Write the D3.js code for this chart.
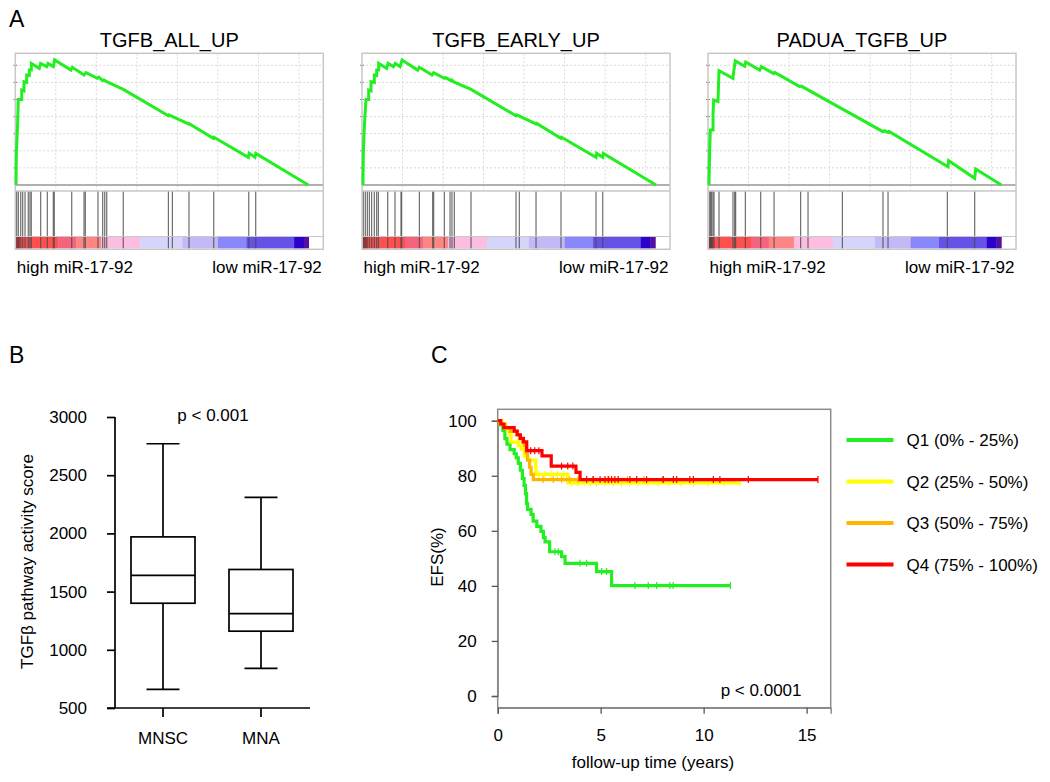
<!DOCTYPE html>
<html><head><meta charset="utf-8">
<script src="https://cdn.jsdelivr.net/npm/d3@7"></script>
<style>
html,body{margin:0;padding:0;background:#fff;}
svg{display:block;font-family:"Liberation Sans",Arial,sans-serif;}
</style></head>
<body>
<svg id="c" width="1050" height="782"></svg>
<script>
// ---------------- DATA ----------------
const gseaTitles = ["TGFB_ALL_UP", "TGFB_EARLY_UP", "PADUA_TGFB_UP"];
// running enrichment score vertices: [rank (thousands), ES]
const esCurve1 = [[0.09,0],[0.12,0.17],[0.2,0.26],[0.28,0.35],[0.37,0.50],[0.79,0.50],[0.79,0.555],[1.07,0.55],[1.07,0.604],[1.40,0.60],[1.40,0.643],[1.73,0.64],[1.73,0.672],[1.98,0.672],[1.98,0.711],[2.96,0.682],[3.13,0.711],[3.87,0.692],[4.03,0.711],[4.69,0.692],[4.85,0.731],[6.87,0.672],[7.04,0.688],[8.48,0.643],[8.72,0.657],[10.12,0.624],[10.3,0.63],[10.78,0.61],[10.95,0.614],[11.27,0.604],[13.33,0.559],[18.88,0.405],[18.95,0.41],[21.35,0.357],[21.4,0.36],[24.43,0.273],[24.5,0.279],[28.75,0.162],[28.85,0.185],[29.57,0.162],[29.67,0.185],[36.15,0]];
const esCurve2 = [[0.12,0],[0.16,0.17],[0.22,0.26],[0.3,0.35],[0.49,0.50],[0.82,0.50],[0.82,0.555],[1.11,0.55],[1.11,0.604],[1.52,0.60],[1.52,0.643],[1.81,0.64],[1.81,0.672],[2.06,0.672],[2.06,0.711],[3.04,0.682],[3.21,0.711],[3.87,0.692],[4.11,0.711],[4.69,0.692],[4.94,0.731],[6.87,0.672],[7.08,0.688],[8.64,0.643],[8.84,0.657],[10.16,0.624],[10.3,0.628],[10.98,0.61],[11.1,0.614],[11.27,0.604],[13.45,0.559],[19.0,0.405],[19.1,0.41],[21.47,0.357],[21.55,0.36],[24.55,0.273],[24.62,0.279],[28.87,0.162],[28.95,0.185],[29.7,0.162],[29.78,0.185],[36.27,0]];
const esCurve3 = [[0.12,0],[0.21,0.215],[0.29,0.322],[0.62,0.322],[0.62,0.415],[0.70,0.497],[1.23,0.489],[1.36,0.668],[3.08,0.624],[3.17,0.663],[3.37,0.725],[4.53,0.694],[4.65,0.719],[6.38,0.672],[6.58,0.692],[8.1,0.651],[8.23,0.658],[11.31,0.575],[11.52,0.578],[12.34,0.556],[21.59,0.312],[21.8,0.318],[22.21,0.307],[22.33,0.313],[29.61,0.107],[29.69,0.142],[32.9,0.039],[33.03,0.094],[36.19,0]];
// hit positions (rank, thousands)
const hits1 = [0.17,0.37,0.67,0.91,1.2,1.6,1.81,1.97,3.13,3.95,4.69,4.81,6.96,8.48,8.64,10.2,10.78,11.03,11.28,13.32,18.89,19.38,21.43,24.48,28.8,29.66];
const hits2 = [0.16,0.41,0.66,0.91,1.19,1.52,1.81,2.02,3.17,4.07,4.81,4.89,7.08,8.72,8.84,10.16,10.86,11.1,11.39,13.45,19.0,19.41,21.47,24.55,28.87,29.7];
const hits3 = [0.21,0.33,0.45,0.62,0.74,1.36,3.08,3.29,3.41,4.61,6.5,8.15,11.43,12.34,16.58,21.59,22.21,29.53,32.9];
// ranked-list colour bar
const colorBarEdges = [0.1,0.6,5.3,7.5,10.6,15.4,20.6,25.0,28.5,34.4,35.6,36.2];
const colorBarColors = ["#d9232e","#ff4f4f","#f5647c","#ff8585","#fcbde0","#d5d5fb","#c2b9f6","#8888fc","#6552e6","#2d00cc","#55109f"];

// Panel B box plot
const boxGroups = ["MNSC", "MNA"];
const boxMin = [660, 840];
const boxQ1 = [1400, 1160];
const boxMedian = [1640, 1310];
const boxQ3 = [1970, 1690];
const boxMax = [2770, 2310];
const boxTicks = [500, 1000, 1500, 2000, 2500, 3000];

// Panel C Kaplan-Meier
const kmLabels = ["Q1 (0% - 25%)", "Q2 (25% - 50%)", "Q3 (50% - 75%)", "Q4 (75% - 100%)"];
const kmColors = ["#22ee22", "#ffff00", "#ffb400", "#ff0000"];
const kmQ1 = [[0,100],[0.10,98.5],[0.25,96.5],[0.35,93.5],[0.45,91.5],[0.6,89.5],[0.8,88.0],[0.9,86.5],[1.0,84.5],[1.1,82.0],[1.2,79.0],[1.28,76.5],[1.35,73.5],[1.4,70.0],[1.45,67.8],[1.62,66.0],[1.72,63.5],[1.9,61.6],[2.1,59.8],[2.22,57.5],[2.3,56.0],[2.52,52.4],[3.1,50.6],[3.27,48.2],[4.8,45.2],[5.53,40.1]];
const kmQ2 = [[0,100],[0.2,98.7],[0.4,97.4],[0.5,96.1],[0.58,94.8],[0.65,92.2],[1.0,90.9],[1.15,89.6],[1.3,87.0],[1.45,85.7],[1.85,80.5],[3.4,77.4]];
const kmQ3 = [[0,100],[0.12,98.7],[0.35,97.4],[0.6,96.1],[0.92,94.8],[1.05,93.5],[1.2,92.2],[1.3,90.9],[1.38,88.3],[1.45,85.7],[1.55,83.1],[1.62,80.5],[1.73,78.6]];
const kmQ4 = [[0,100],[0.15,98.8],[0.3,97.5],[0.8,96.2],[0.95,94.9],[1.1,93.6],[1.25,92.3],[1.41,89.1],[2.15,87.2],[2.6,83.5],[3.8,81.2],[4.0,78.6]];
const kmEnd = [11.3, 11.77, 11.5, 15.55];
const kmCensorQ1 = [2.78,2.94,4.0,4.32,5.05,5.29,6.66,7.31,7.72,8.36,8.52,11.3];
const kmCensorQ2 = [2.0,2.3,2.6,2.9,3.2,3.6,3.9,4.2,4.5,4.8,5.2,5.6,6.0,6.4,6.8,7.3,7.8,8.3,8.9,9.5,10.2,11.0,11.77];
const kmCensorQ3 = [2.2,2.7,3.1,3.5,3.9,4.6,5.4,6.3,7.1,8.0];
const kmCensorQ4 = [1.6,1.8,2.0,3.1,3.4,3.65,4.32,4.64,4.97,5.21,5.37,5.53,5.69,5.85,6.42,6.75,7.23,8.04,8.53,8.69,9.33,9.5,10.47,10.79,12.17,15.55];
const kmTicksY = [0, 20, 40, 60, 80, 100];
const kmTicksX = [0, 5, 10, 15];

// ---------------- DRAW ----------------
const svg = d3.select("#c");
const FONT = "17px";

// panel letters
svg.append("text").attr("x", 9).attr("y", 27).attr("font-size", "23px").text("A");
svg.append("text").attr("x", 9).attr("y", 363).attr("font-size", "23px").text("B");
svg.append("text").attr("x", 431).attr("y", 363).attr("font-size", "23px").text("C");

// ---- Panel A ----
const gseaLefts = [15.3, 362, 708];
const esCurves = [esCurve1, esCurve2, esCurve3];
const hitSets = [hits1, hits2, hits3];

function gseaPanel(i) {
  const L = gseaLefts[i], Wd = 308;
  const x = d3.scaleLinear([0, 38], [L, L + Wd]);
  const y = d3.scaleLinear([-0.035, 0.77], [191, 53.3]);
  const g = svg.append("g");
  // grid
  g.selectAll(".vg").data(d3.range(5, 36, 5)).join("line")
    .attr("x1", d => x(d)).attr("x2", d => x(d)).attr("y1", 53.3).attr("y2", 191)
    .attr("stroke", "#d8d8d8").attr("stroke-width", 1).attr("stroke-dasharray", "2,2");
  g.selectAll(".hg").data(d3.range(1, 8).map(d => d / 10)).join("line")
    .attr("x1", L).attr("x2", L + Wd).attr("y1", d => y(d)).attr("y2", d => y(d))
    .attr("stroke", "#d8d8d8").attr("stroke-width", 1).attr("stroke-dasharray", "2,2");
  // y tick marks
  g.selectAll(".yt").data(d3.range(1, 8).map(d => d / 10)).join("line")
    .attr("x1", L - 2).attr("x2", L + 2).attr("y1", d => y(d)).attr("y2", d => y(d))
    .attr("stroke", "#888").attr("stroke-width", 1);
  // colour bar
  const segs = colorBarColors.map((c, k) => ({c, a: colorBarEdges[k], b: colorBarEdges[k + 1]}));
  g.selectAll(".cb").data(segs).join("rect")
    .attr("x", d => x(d.a)).attr("width", d => x(d.b) - x(d.a) + 0.3)
    .attr("y", 237).attr("height", 11.5).attr("fill", d => d.c);
  // hits
  g.selectAll(".hit").data(hitSets[i]).join("line")
    .attr("x1", d => x(d)).attr("x2", d => x(d)).attr("y1", 191).attr("y2", 248.5)
    .attr("stroke", "#4a4a4a").attr("stroke-opacity", 0.8).attr("stroke-width", 1.2);
  // zero line
  g.append("line").attr("x1", L).attr("x2", L + Wd).attr("y1", y(0)).attr("y2", y(0))
    .attr("stroke", "#b0b0b0").attr("stroke-width", 2);
  // separators
  g.append("line").attr("x1", L).attr("x2", L + Wd).attr("y1", 191).attr("y2", 191)
    .attr("stroke", "#c8c8c8").attr("stroke-width", 1.5);
  g.append("line").attr("x1", L).attr("x2", L + Wd).attr("y1", 236.5).attr("y2", 236.5)
    .attr("stroke", "#c8c8c8").attr("stroke-width", 1.2);
  // frame
  g.append("rect").attr("x", L).attr("y", 53.3).attr("width", Wd).attr("height", 196)
    .attr("fill", "none").attr("stroke", "#c8c8c8").attr("stroke-width", 1.5);
  // ES curve
  g.append("path").datum(esCurves[i])
    .attr("d", d3.line().x(d => x(d[0])).y(d => y(d[1])))
    .attr("fill", "none").attr("stroke", "#22ee22").attr("stroke-width", 3)
    .attr("stroke-linejoin", "miter");
  // title & labels
  g.append("text").attr("x", L + 154).attr("y", 46.5).attr("text-anchor", "middle")
    .attr("font-size", "20px").text(gseaTitles[i]);
  g.append("text").attr("x", L + 1.5).attr("y", 273).attr("font-size", FONT).text("high miR-17-92");
  g.append("text").attr("x", L + Wd - 1.5).attr("y", 273).attr("text-anchor", "end")
    .attr("font-size", FONT).text("low miR-17-92");
}
[0, 1, 2].forEach(gseaPanel);

// ---- Panel B ----
(function () {
  const y = d3.scaleLinear([500, 3000], [708, 417]);
  const x = d3.scalePoint(boxGroups, [163, 261]);
  const g = svg.append("g");
  const ax = g.append("g").attr("transform", "translate(115,0)")
    .call(d3.axisLeft(y).tickValues(boxTicks).tickSize(8).tickPadding(20).tickFormat(d3.format("d")));
  ax.select(".domain").attr("stroke", "#000").attr("stroke-width", 1.7).attr("d", "M0,708V417");
  ax.selectAll(".tick line").attr("stroke", "#000").attr("stroke-width", 1.7);
  ax.selectAll("text").attr("font-size", FONT).attr("font-family", "Liberation Sans, Arial, sans-serif").attr("fill", "#000");
  // x axis
  g.append("line").attr("x1", 107).attr("x2", 310).attr("y1", y(500)).attr("y2", y(500))
    .attr("stroke", "#000").attr("stroke-width", 1.7);
  boxGroups.forEach((grp, k) => {
    const cx = x(grp), bw = 64, cw = 33;
    g.append("line").attr("x1", cx).attr("x2", cx).attr("y1", y(500)).attr("y2", y(500) + 9)
      .attr("stroke", "#000").attr("stroke-width", 1.7);
    g.append("text").attr("x", cx).attr("y", 743.5).attr("text-anchor", "middle")
      .attr("font-size", FONT).text(grp);
    const ln = (x1, x2, y1, y2) => g.append("line").attr("x1", x1).attr("x2", x2).attr("y1", y1).attr("y2", y2)
      .attr("stroke", "#000").attr("stroke-width", 1.7);
    ln(cx, cx, y(boxMax[k]), y(boxQ3[k]));
    ln(cx, cx, y(boxQ1[k]), y(boxMin[k]));
    ln(cx - cw / 2, cx + cw / 2, y(boxMax[k]), y(boxMax[k]));
    ln(cx - cw / 2, cx + cw / 2, y(boxMin[k]), y(boxMin[k]));
    g.append("rect").attr("x", cx - bw / 2).attr("width", bw).attr("y", y(boxQ3[k]))
      .attr("height", y(boxQ1[k]) - y(boxQ3[k])).attr("fill", "none").attr("stroke", "#000").attr("stroke-width", 1.7);
    ln(cx - bw / 2, cx + bw / 2, y(boxMedian[k]), y(boxMedian[k]));
  });
  g.append("text").attr("x", 213).attr("y", 420.5).attr("text-anchor", "middle").attr("font-size", FONT).text("p < 0.001");
  g.append("text").attr("transform", "translate(32.5,561.5) rotate(-90)").attr("text-anchor", "middle")
    .attr("font-size", FONT).text("TGFβ pathway activity score");
})();

// ---- Panel C ----
(function () {
  const x = d3.scaleLinear([0, 16.17], [497.7, 830.7]);
  const y = d3.scaleLinear([0, 100], [696, 420.7]);
  const g = svg.append("g");
  // frame
  g.append("rect").attr("x", 497.7).attr("y", 409.3).attr("width", 333).attr("height", 298.4)
    .attr("fill", "none").attr("stroke", "#8c8c8c").attr("stroke-width", 1.5);
  const ay = g.append("g").attr("transform", "translate(497.7,0)")
    .call(d3.axisLeft(y).tickValues(kmTicksY).tickSize(6).tickPadding(15));
  ay.select(".domain").attr("stroke", "#8c8c8c").attr("stroke-width", 1.5);
  ay.selectAll(".tick line").attr("stroke", "#555").attr("stroke-width", 1.3);
  ay.selectAll("text").attr("font-size", FONT).attr("font-family", "Liberation Sans, Arial, sans-serif").attr("fill", "#000");
  const axx = g.append("g").attr("transform", "translate(0,707.7)")
    .call(d3.axisBottom(x).tickValues(kmTicksX).tickSize(6).tickPadding(15));
  axx.select(".domain").attr("stroke", "#8c8c8c").attr("stroke-width", 1.5);
  axx.selectAll(".tick line").attr("stroke", "#555").attr("stroke-width", 1.3);
  axx.selectAll("text").attr("font-size", FONT).attr("font-family", "Liberation Sans, Arial, sans-serif").attr("fill", "#000");

  const steps = [kmQ1, kmQ2, kmQ3, kmQ4];
  const cens = [kmCensorQ1, kmCensorQ2, kmCensorQ3, kmCensorQ4];
  const line = d3.line().x(d => x(d[0])).y(d => y(d[1])).curve(d3.curveStepAfter);
  steps.forEach((s, k) => {
    const pts = s.concat([[kmEnd[k], s[s.length - 1][1]]]);
    g.append("path").datum(pts).attr("d", line).attr("fill", "none")
      .attr("stroke", kmColors[k]).attr("stroke-width", 3.2);
    const level = t => { let v = s[0][1]; for (const p of s) { if (p[0] <= t) v = p[1]; } return v; };
    g.selectAll(null).data(cens[k]).join("line")
      .attr("x1", d => x(d)).attr("x2", d => x(d))
      .attr("y1", d => y(level(d)) - 3.5).attr("y2", d => y(level(d)) + 3.5)
      .attr("stroke", kmColors[k]).attr("stroke-width", 1.2);
  });
  g.append("text").attr("x", 801.5).attr("y", 696).attr("text-anchor", "end").attr("font-size", FONT).text("p < 0.0001");
  g.append("text").attr("x", 653).attr("y", 768).attr("text-anchor", "middle").attr("font-size", FONT).text("follow-up time (years)");
  g.append("text").attr("transform", "translate(443,557) rotate(-90)").attr("text-anchor", "middle")
    .attr("font-size", FONT).text("EFS(%)");
  // legend
  const leg = g.append("g");
  kmLabels.forEach((lab, k) => {
    const ly = 440 + k * 41.5;
    leg.append("line").attr("x1", 846.5).attr("x2", 893.5).attr("y1", ly).attr("y2", ly)
      .attr("stroke", kmColors[k]).attr("stroke-width", 4);
    leg.append("text").attr("x", 906.5).attr("y", ly + 6).attr("font-size", FONT).text(lab);
  });
})();
</script>
</body></html>
